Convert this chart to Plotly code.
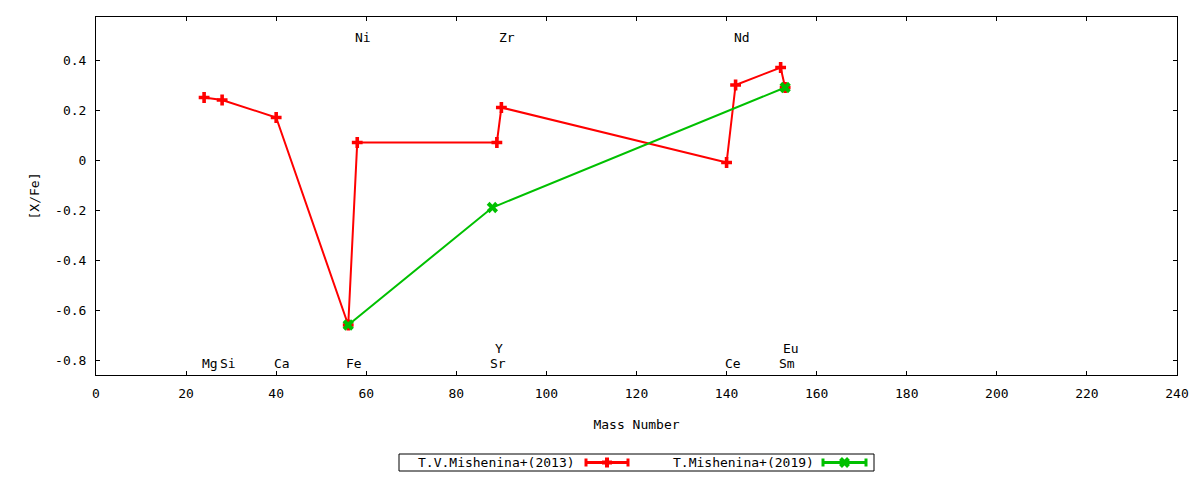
import plotly.graph_objects as go

# T.V.Mishenina+(2013)
mass_2013 = [24, 28, 40, 56, 58, 89, 90, 140, 142, 152, 153]
xfe_2013 = [0.25, 0.24, 0.17, -0.66, 0.07, 0.07, 0.21, -0.01, 0.30, 0.37, 0.29]

# T.Mishenina+(2019)
mass_2019 = [56, 88, 153]
xfe_2019 = [-0.66, -0.19, 0.29]

# element labels along the plot
label_names = ["Mg", "Si", "Ca", "Fe", "Sr", "Y", "Ce", "Sm", "Eu", "Ni", "Zr", "Nd"]
label_mass = [24, 28, 40, 56, 88, 89, 140, 152, 153, 58, 90, 142]
label_row = ["low", "low", "low", "low", "low", "mid", "low", "low", "mid", "top", "top", "top"]

series_names = ["T.V.Mishenina+(2013)", "T.Mishenina+(2019)"]
series_colors = ["#ff0000", "#00c000"]

x_ticks = list(range(0, 241, 20))
y_ticks = [-0.8, -0.6, -0.4, -0.2, 0, 0.2, 0.4]
y_tick_text = ["-0.8", "-0.6", "-0.4", "-0.2", "0", "0.2", "0.4"]

FONT = "DejaVu Sans Mono"
row_y = {"low": -0.815, "mid": -0.755, "top": 0.489}

# the page body has an 8px margin, so the figure is a bit smaller than the window
W, H = 1184, 464
M_L, M_R, M_T, M_B = 88, 15, 9, 97
plot_w = W - M_L - M_R
plot_h = H - M_T - M_B


def px(sx):
    # window x pixel -> paper x
    return (sx - 8 - M_L) / plot_w


def py(sy):
    # window y pixel -> paper y
    return (H - M_B - (sy - 8)) / plot_h


fig = go.Figure()

fig.add_trace(go.Scatter(
    x=mass_2013, y=xfe_2013, mode="lines+markers",
    name=series_names[0],
    line=dict(color=series_colors[0], width=2),
    marker=dict(symbol="cross", size=9, color=series_colors[0]),
))
fig.add_trace(go.Scatter(
    x=mass_2019, y=xfe_2019, mode="lines+markers",
    name=series_names[1],
    line=dict(color=series_colors[1], width=2),
    marker=dict(symbol="x", size=10, color=series_colors[1]),
))

# element names written next to their mass number
for name, m, row in zip(label_names, label_mass, label_row):
    fig.add_annotation(
        x=m, y=row_y[row], text=name, showarrow=False,
        xanchor="left", yanchor="middle", xshift=-4,
        font=dict(family=FONT, size=13, color="black"),
    )

# gnuplot-style key box: text, then a line sample with end caps and a point
fig.add_shape(type="rect", xref="paper", yref="paper",
              x0=px(399), x1=px(874), y0=py(471), y1=py(454),
              line=dict(color="black", width=1), fillcolor="white", layer="above")

key_y = py(462.5)
key_text_right = [577, 816]
key_sample = [(586, 628), (823, 866)]
for i in range(2):
    col = series_colors[i]
    fig.add_annotation(
        xref="paper", yref="paper", x=px(key_text_right[i]), y=key_y,
        text=series_names[i], showarrow=False, xanchor="right", yanchor="middle",
        font=dict(family=FONT, size=13, color="black"),
    )
    a, b = key_sample[i]
    fig.add_shape(type="line", xref="paper", yref="paper",
                  x0=px(a), x1=px(b), y0=key_y, y1=key_y,
                  line=dict(color=col, width=3), layer="above")
    # end caps
    for end in (a, b):
        fig.add_shape(type="line", xref="paper", yref="paper",
                      xsizemode="pixel", xanchor=px(end), ysizemode="pixel", yanchor=key_y,
                      x0=0, x1=0, y0=-4, y1=4,
                      line=dict(color=col, width=3), layer="above")
    mid = px((a + b) / 2)
    if i == 0:
        arms = [(-5, 0, 5, 0), (0, -5, 0, 5)]
    else:
        arms = [(-4, -4, 4, 4), (-4, 4, 4, -4)]
    for x0, y0, x1, y1 in arms:
        fig.add_shape(type="line", xref="paper", yref="paper",
                      xsizemode="pixel", xanchor=mid, ysizemode="pixel", yanchor=key_y,
                      x0=x0, x1=x1, y0=y0, y1=y1,
                      line=dict(color=col, width=4), layer="above")

fig.update_xaxes(
    range=[0, 240], tickvals=x_ticks, automargin=False,
    ticks="inside", ticklen=4, tickcolor="black", ticklabelstandoff=6,
    showline=True, linecolor="black", linewidth=1, mirror="ticks",
    showgrid=False, zeroline=False,
    title=dict(text="Mass Number", standoff=20, font=dict(size=13)),
)
fig.update_yaxes(
    range=[-0.86, 0.572], tickvals=y_ticks, ticktext=y_tick_text, automargin=False,
    ticks="inside", ticklen=4, tickcolor="black", ticklabelstandoff=6,
    showline=True, linecolor="black", linewidth=1, mirror="ticks",
    showgrid=False, zeroline=False,
    title=dict(text="[X/Fe]", standoff=12, font=dict(size=13)),
)

fig.update_layout(
    width=W, height=H,
    margin=dict(l=M_L, r=M_R, t=M_T, b=M_B),
    plot_bgcolor="white", paper_bgcolor="white",
    font=dict(family=FONT, size=13, color="black"),
    showlegend=False,
)

fig.write_html("out.html")
